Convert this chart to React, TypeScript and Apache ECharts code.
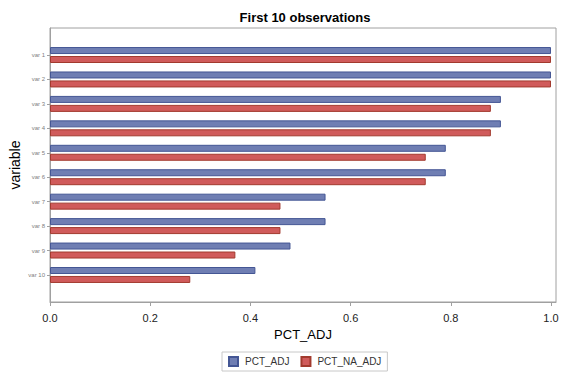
import React, { useEffect, useRef } from "react";
import * as echarts from "echarts";

const categories = ["var 1", "var 2", "var 3", "var 4", "var 5", "var 6", "var 7", "var 8", "var 9", "var 10"];
const pctAdj = [1.0, 1.0, 0.9, 0.9, 0.79, 0.79, 0.55, 0.55, 0.48, 0.41];
const pctNaAdj = [1.0, 1.0, 0.88, 0.88, 0.75, 0.75, 0.46, 0.46, 0.37, 0.28];
const xTicks = [0, 0.2, 0.4, 0.6, 0.8, 1.0];

const FONT = "'Liberation Sans', Arial, sans-serif";

export default function App() {
  const ref = useRef<HTMLDivElement>(null);
  useEffect(() => {
    if (!ref.current) return;
    const chart = echarts.init(ref.current, null, { renderer: "svg" });
    chart.setOption({
      animation: false,
      backgroundColor: "#ffffff",
      textStyle: { fontFamily: FONT },
      title: {
        text: "First 10 observations",
        left: 300,
        top: 6,
        textAlign: "center",
        textStyle: { fontFamily: FONT, fontSize: 13, fontWeight: "bold", color: "#000" },
      },
      legend: {
        left: 222,
        top: 352,
        orient: "horizontal",
        itemWidth: 9,
        itemHeight: 9,
        itemGap: 11,
        padding: [4, 6, 4, 6],
        borderColor: "#c8c8c8",
        borderWidth: 1,
        icon: "rect",
        textStyle: { fontFamily: FONT, fontSize: 10, color: "#333", padding: [0, 0, 0, 2] },
        data: ["PCT_ADJ", "PCT_NA_ADJ"],
      },
      grid: [
        { left: 50, top: 28, width: 506, height: 274, show: true, borderColor: "#a0a0a0", borderWidth: 1, backgroundColor: "transparent" },
        { left: 50, top: 42.8, width: 506, height: 244.4 },
      ],
      xAxis: [
        {
          gridIndex: 0,
          type: "value",
          min: 0,
          max: 1.01,
          name: "PCT_ADJ",
          nameLocation: "middle",
          nameGap: 24,
          nameTextStyle: { fontFamily: FONT, fontSize: 13, color: "#000" },
          axisLine: { show: true, lineStyle: { color: "#a0a0a0" } },
          axisTick: { show: true, length: 4, lineStyle: { color: "#a0a0a0" }, customValues: xTicks },
          axisLabel: {
            margin: 10,
            fontFamily: FONT,
            fontSize: 11,
            color: "#222",
            customValues: xTicks,
            formatter: (v: number) => v.toFixed(1),
          },
          splitLine: { show: false },
        },
        {
          gridIndex: 1,
          type: "value",
          min: 0,
          max: 1.01,
          show: false,
          splitLine: { show: false },
        },
      ],
      yAxis: [
        {
          gridIndex: 0,
          type: "value",
          min: 0,
          max: 1,
          name: "variable",
          nameLocation: "middle",
          nameGap: 28,
          nameTextStyle: { fontFamily: FONT, fontSize: 14, color: "#000" },
          axisLine: { show: true, lineStyle: { color: "#a0a0a0" } },
          axisTick: { show: false },
          axisLabel: { show: false },
          splitLine: { show: false },
        },
        {
          gridIndex: 1,
          type: "category",
          inverse: true,
          data: categories,
          axisLine: { show: false },
          axisTick: { show: true, alignWithLabel: true, length: 3, lineStyle: { color: "#a0a0a0" } },
          axisLabel: { fontFamily: FONT, fontSize: 6, color: "#808080", margin: 5 },
          splitLine: { show: false },
        },
      ],
      series: [
        {
          name: "PCT_ADJ",
          type: "bar",
          xAxisIndex: 1,
          yAxisIndex: 1,
          data: pctAdj,
          barWidth: 7,
          barGap: "28%",
          itemStyle: { color: "#6f7eb3", borderColor: "#445694", borderWidth: 1 },
        },
        {
          name: "PCT_NA_ADJ",
          type: "bar",
          xAxisIndex: 1,
          yAxisIndex: 1,
          data: pctNaAdj,
          barWidth: 7,
          barGap: "28%",
          itemStyle: { color: "#d05b5b", borderColor: "#a23a2e", borderWidth: 1 },
        },
      ],
    });
    return () => chart.dispose();
  }, []);
  return <div ref={ref} style={{ position: "fixed", left: 0, top: 0, width: 567, height: 378 }} />;
}
